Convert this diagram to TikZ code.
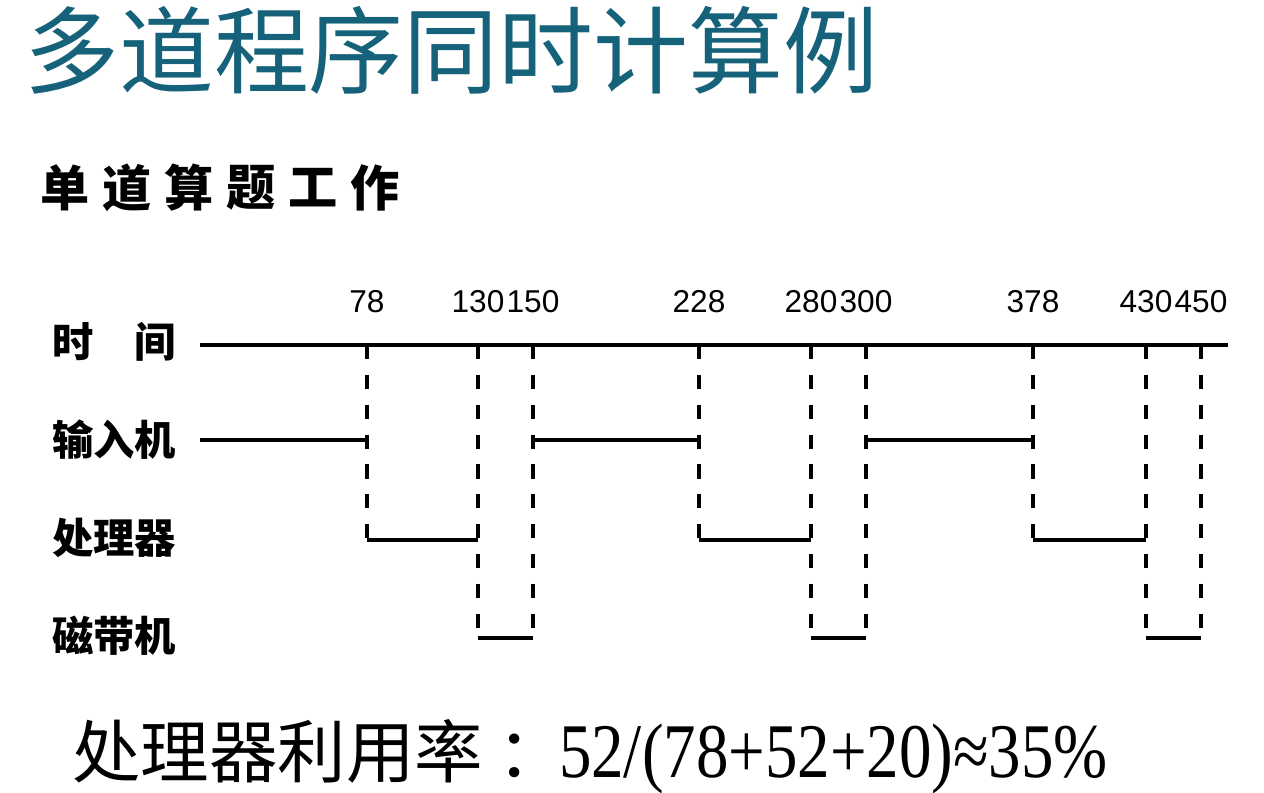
\documentclass[tikz,border=0pt]{standalone}
\usepackage{fontspec}
\setmainfont{Liberation Serif}
\setsansfont{Liberation Sans}
\newfontfamily\cjk{Noto Sans CJK SC}
\usetikzlibrary{positioning}
\definecolor{titleteal}{RGB}{22,98,122}

\begin{document}
\begin{tikzpicture}[x=0.02cm,y=-0.02cm,
    tline/.style={line width=2.3pt},
    tick/.style={line width=2.3pt, dash pattern=on 8pt off 9pt},
    num/.style={font=\sffamily\fontsize{18pt}{18pt}\selectfont, inner sep=0pt},
    rowlab/.style={font=\cjk\bfseries\fontsize{23.5pt}{24pt}\selectfont, anchor=west, inner sep=0pt}]
	%\draw[help lines] (0,0) grid[step=100] (1264,793);
	\useasboundingbox (0,0) rectangle (1264,793);
	\node[font=\cjk\fontsize{54pt}{54pt}\selectfont, text=titleteal, anchor=west, inner sep=0pt] (title) at (24,50) {多道程序同时计算例};
	\foreach \ch [count=\i] in {单,道,算,题,工,作}
	   \node[font=\cjk\bfseries\fontsize{28pt}{28pt}\selectfont, inner sep=0pt] (sub\i) at ({3+62*\i},188) {\ch};
% rows
	\coordinate (axis0) at (200,345);
	\coordinate (axis1) at (1228,345);
	\coordinate (rin) at (200,440);
	\coordinate (rcpu) at (200,540);
	\coordinate (rtape) at (200,638);
	\node[rowlab] (ltime) at (52,342) {时　间};
	\node[rowlab] (lin) at (52,440) {输入机};
	\node[rowlab] (lcpu) at (52,538) {处理器};
	\node[rowlab] (ltape) at (52,636) {磁带机};
	\draw[tline] (axis0) -- (axis1);
	\foreach \t/\x/\row in {78/367/rcpu, 130/478/rtape, 150/533/rtape, 228/699/rcpu, 280/811/rtape, 300/866/rtape, 378/1033/rcpu, 430/1146/rtape, 450/1201/rtape}{
	   \coordinate (t\t) at (\x,345);
	   \node[num] (n\t) at (\x,302) {\t};
	   \draw[tick] (t\t) -- (t\t |- \row);
	}
% input, cpu, tape
	\draw[tline] (rin) -- (t78 |- rin);
	\draw[tline] (t150 |- rin) -- (t228 |- rin);
	\draw[tline] (t300 |- rin) -- (t378 |- rin);
	\draw[tline] (t78 |- rcpu) -- (t130 |- rcpu);
	\draw[tline] (t228 |- rcpu) -- (t280 |- rcpu);
	\draw[tline] (t378 |- rcpu) -- (t430 |- rcpu);
	\draw[tline] (t130 |- rtape) -- (t150 |- rtape);
	\draw[tline] (t280 |- rtape) -- (t300 |- rtape);
	\draw[tline] (t430 |- rtape) -- (t450 |- rtape);
	\node[anchor=west, inner sep=0pt] (rate) at (72,757) {{\cjk\fontsize{39pt}{39pt}\selectfont 处理器利用率\hspace{8pt}：}\hspace{-4pt}\scalebox{0.84}[1]{\fontsize{44pt}{44pt}\selectfont 52/(78+52+20)≈35\%}};
\end{tikzpicture}
\end{document}
